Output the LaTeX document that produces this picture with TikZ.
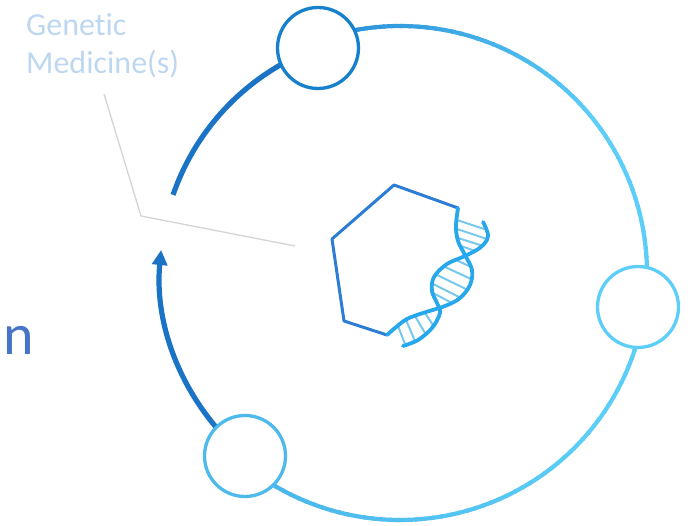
\documentclass[tikz,border=0pt]{standalone}
\usepackage{fontspec}
\setmainfont{Carlito}[Ligatures=CommonOff]
\usetikzlibrary{arrows.meta}

\definecolor{ringdark}{RGB}{26,115,196}
\definecolor{ringmid}{RGB}{38,140,214}
\definecolor{ringcyan}{RGB}{92,206,247}
\definecolor{ringlow}{RGB}{72,180,233}
\definecolor{topblue}{RGB}{22,128,204}
\definecolor{lowblue}{RGB}{78,186,236}
\definecolor{helix}{RGB}{40,168,236}
\definecolor{rung}{RGB}{120,200,238}
\definecolor{hexblue}{RGB}{45,125,212}
\definecolor{labelblue}{RGB}{190,215,240}
\definecolor{nblue}{RGB}{70,116,198}
\definecolor{leadgrey}{RGB}{212,212,212}

\begin{document}
\begin{tikzpicture}[x=1pt,y=1pt,
    station/.style={circle,draw,fill=white,line width=3.3pt,minimum size=81pt,inner sep=0pt},
    rungline/.style={rung,line width=2pt},
    strand/.style={helix,line width=3.8pt,line cap=round}]
  \useasboundingbox (0,0) rectangle (690,526);
  \coordinate (hub) at (400,253);

  %%%%% RING %%%%%

  % right half, shaded piece by piece
  \foreach \a in {110,108,...,-128}{
    \ifnum\a>0
      \pgfmathtruncatemacro\p{max(0,min(100,(110-\a)/70*100))}
      \colorlet{seg}{ringcyan!\p!ringmid}
    \else
      \pgfmathtruncatemacro\p{max(0,min(100,(-\a-40)/90*100))}
      \colorlet{seg}{ringlow!\p!ringcyan}
    \fi
    \draw[seg,line width=4.2pt] (hub) ++(\a:247) arc (\a:\a-2.5:247);
  }

  % left half, with the gap and the arrow
  \draw[ringdark,line width=5.2pt] (hub) ++(110:240) arc (110:161:240);
  \draw[ringdark,line width=5.2pt,-{Triangle[width=15pt,length=15pt]}]
    (hub) ++(229.7:240) arc (229.7:174.5:240);

  \node[station,draw=topblue] (topstop) at (318,478) {};
  \node[station,draw=ringcyan] (rightstop) at (638,219) {};
  \node[station,draw=lowblue] (lowstop) at (245,70) {};

  %%%%% LABELS %%%%%

  \node[labelblue,font=\fontsize{32}{38}\selectfont,align=left,anchor=base west,inner sep=0pt]
    (label) at (26,452) {Genetic\\Medicine(s)};
  \coordinate (leadA) at (104,432);
  \coordinate (leadB) at (141,310);
  \coordinate (leadC) at (295,280);
  \draw[leadgrey,line width=1.3pt] (leadA) -- (leadB) -- (leadC);

  \node[nblue,font=\fontsize{58}{60}\selectfont,anchor=base west,inner sep=0pt] (cut) at (3,171) {n};

  %%%%% HEXAGON AND DNA %%%%%

  \draw[hexblue,line width=3pt,line join=round]
    (458,318) -- (394,341) -- (332,287) -- (344,205) -- (387,191);

  % rungs
  \draw[rungline] (457,306) -- (484,297);
  \draw[rungline] (457,297) -- (487,287);
  \draw[rungline] (458,288) -- (483,280);
  \draw[rungline] (461,280) -- (475,275);
  \draw[rungline] (456,266) -- (469,260);
  \draw[rungline] (445,259) -- (471,247);
  \draw[rungline] (437,251) -- (468,236);
  \draw[rungline] (433,242) -- (461,228);
  \draw[rungline] (433,233) -- (450,224);
  \draw[rungline] (425,213) -- (433,201);
  \draw[rungline] (415,210) -- (425,193);
  \draw[rungline] (406,206) -- (415,185);
  \draw[rungline] (398,200) -- (405,182);

  % strands
  \draw[strand] plot[smooth,tension=0.6] coordinates {(458,318) (456,300) (458,285) (465,271)
    (472,256) (470,241) (460,228) (445,220) (423,213) (407,207) (395,198) (387,191)};
  \draw[strand] plot[smooth,tension=0.6] coordinates {(483,304) (488,290) (481,279) (465,270)
    (447,262) (434,249) (432,235) (437,223) (440,213) (432,198) (418,186) (403,180)};
\end{tikzpicture}
\end{document}
